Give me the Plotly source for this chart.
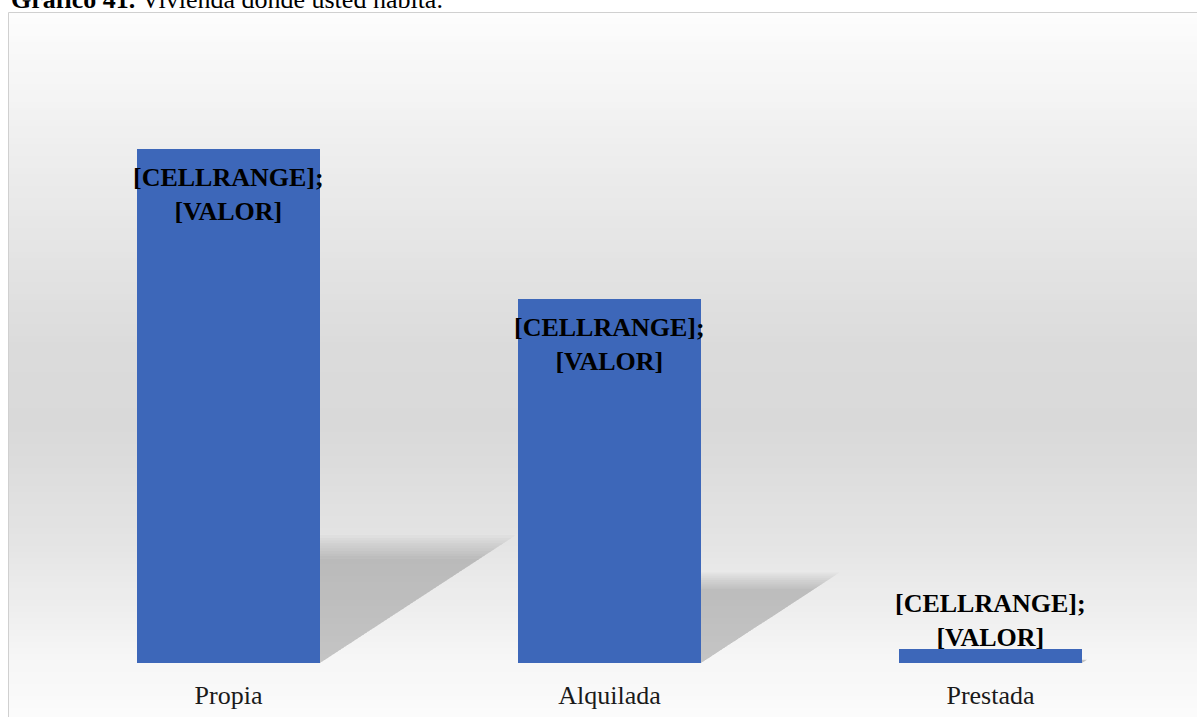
import plotly.graph_objects as go

# ---- data ----
categories = ["Propia", "Alquilada", "Prestada"]
values = [72, 51, 2]
label_text = "<b>[CELLRANGE];<br>[VALOR]</b>"
title_bold = "Gráfico 41."
title_rest = " Vivienda donde usted habita."

W, H = 1197, 717
L, R, T, B = 38, 16, 92, 54
plot_h = H - T - B
plot_w = W - L - R
y_max = 80
bar_width = 0.48

def px_to_paper_y(py):
    return (H - B - py) / plot_h

def px_to_paper_x(px):
    return (px - L) / plot_w

fig = go.Figure()

# perspective shadows (derived from values), layered for a soft edge
half = bar_width / 2
n_layers = 10
for i, v in enumerate(values):
    h = 0.23 * v
    w = 0.0066 * v
    for k in range(n_layers):
        s = 1.08 - 0.2 * k / (n_layers - 1)
        x0 = i + half
        fig.add_trace(go.Scatter(
            x=[x0, x0, x0 + w * s, x0],
            y=[0, h * s, h * s, 0],
            fill="toself", mode="lines", line=dict(width=0),
            fillcolor="rgba(110,110,110,0.045)", hoverinfo="skip", showlegend=False,
        ))

fig.add_trace(go.Bar(
    x=list(range(len(categories))), y=values, width=bar_width,
    marker=dict(color="#3d67b9", line=dict(width=0)),
    showlegend=False, hoverinfo="skip",
))

# data labels
annotations = []
for i, v in enumerate(values):
    inside = v > 0.1 * max(values)
    annotations.append(dict(
        x=i, y=v, xref="x", yref="y", text=label_text, showarrow=False,
        yanchor="top" if inside else "bottom", yshift=-12 if inside else -5,
        font=dict(family="Liberation Serif", size=26, color="#000000"),
    ))

annotations.append(dict(
    x=px_to_paper_x(9), y=px_to_paper_y(-1), xref="paper", yref="paper",
    xanchor="left", yanchor="middle", showarrow=False,
    text=f"<b>{title_bold}</b>{title_rest}",
    font=dict(family="Liberation Serif", size=26, color="#000000"),
))

# background gradient
stops = [(12, 253), (150, 238), (350, 219), (430, 217), (550, 229), (663, 247), (717, 251)]
def gray_at(py):
    for (a, ga), (b, gb) in zip(stops, stops[1:]):
        if a <= py <= b:
            return ga + (gb - ga) * (py - a) / (b - a)
    return stops[-1][1]

shapes = []
step = 6
py = 12
while py < H:
    g = int(round(gray_at(py + step / 2)))
    shapes.append(dict(type="rect", xref="paper", yref="paper", layer="below",
                       x0=px_to_paper_x(8), x1=px_to_paper_x(W + 2),
                       y0=px_to_paper_y(py), y1=px_to_paper_y(min(py + step + 1, H + 2)),
                       line=dict(width=0), fillcolor=f"rgb({g},{g},{g})"))
    py += step
shapes.append(dict(type="rect", xref="paper", yref="paper", layer="above",
                   x0=px_to_paper_x(8.5), x1=px_to_paper_x(W + 5),
                   y0=px_to_paper_y(12.5), y1=px_to_paper_y(H + 5),
                   line=dict(width=1, color="#d0d0d0"), fillcolor="rgba(0,0,0,0)"))

fig.update_layout(
    width=W, height=H, autosize=False,
    margin=dict(l=L, r=R, t=T, b=B, autoexpand=False),
    paper_bgcolor="#ffffff", plot_bgcolor="rgba(0,0,0,0)",
    bargap=0, shapes=shapes, annotations=annotations,
    xaxis=dict(range=[-0.5, 2.5], tickvals=list(range(len(categories))), ticktext=categories,
               showgrid=False, zeroline=False, showline=False, ticks="",
               automargin=False, ticklabelstandoff=14,
               tickfont=dict(family="Liberation Serif", size=26, color="#1a1a1a")),
    yaxis=dict(range=[0, y_max], visible=False, showgrid=False, zeroline=False,
               automargin=False),
)

fig.write_html(
    "out.html",
    config={"displayModeBar": False},
    post_script="document.body.style.margin='0';document.body.style.overflow='hidden';",
)
